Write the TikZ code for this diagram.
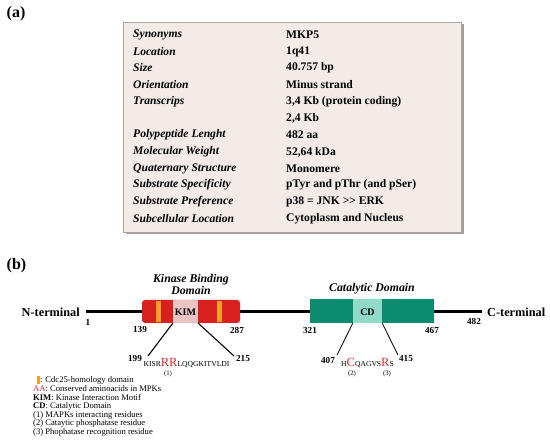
\documentclass[tikz,border=0pt]{standalone}
\usepackage{fontspec}
\setmainfont{Liberation Serif}
\definecolor{tablebg}{HTML}{F2EBE8}
\definecolor{tableborder}{HTML}{A8A4A2}
\definecolor{shadowgray}{HTML}{A09C9A}
\definecolor{kred}{HTML}{D8201E}
\definecolor{kimpink}{HTML}{EDC3C3}
\definecolor{korange}{HTML}{F2A02A}
\definecolor{cteal}{HTML}{0C8C6E}
\definecolor{cdlight}{HTML}{92DAC8}
\definecolor{seqred}{HTML}{E0262C}
\begin{document}
\begin{tikzpicture}[x=1pt,y=-1pt,
  lefttxt/.style={anchor=west,inner sep=0pt,font=\fontsize{11.6}{13}\selectfont\bfseries\itshape},
  righttxt/.style={anchor=west,inner sep=0pt,font=\fontsize{11.6}{13}\selectfont\bfseries},
  paneltxt/.style={anchor=west,inner sep=0pt,font=\fontsize{16}{18}\selectfont\bfseries},
  termtxt/.style={inner sep=0pt,font=\fontsize{12.3}{14}\selectfont\bfseries},
  posnum/.style={inner sep=0pt,font=\fontsize{9.2}{10}\selectfont\bfseries},
  domtitle/.style={inner sep=0pt,align=center,font=\fontsize{11.8}{13}\selectfont\bfseries\itshape},
  seqtxt/.style={inner sep=0pt,font=\fontsize{7.6}{8}\selectfont},
  notetxt/.style={inner sep=0pt,font=\fontsize{6.8}{7}\selectfont},
  legendtxt/.style={anchor=west,inner sep=0pt,font=\fontsize{8.6}{9}\selectfont},
  pinline/.style={line width=1.1pt},
  backbone/.style={line width=3pt}]
\useasboundingbox (0,0) rectangle (550,443);

% ---------- (a) ----------
\node[paneltxt] (pa) at (6.5,14) {(a)};
\fill[shadowgray] (125.5,24.5) rectangle (463.5,234.5);
\draw[tableborder,fill=tablebg,line width=0.6pt] (123,22) rectangle (461,232);

\foreach \i/\l/\r/\y in {
  1/Synonyms/MKP5/35,
  2/Location/1q41/52,
  3/Size/40.757 bp/68,
  4/Orientation/Minus strand/85,
  5/Transcrips/{3,4 Kb (protein coding)}/102,
  6/{}/{2,4 Kb}/118,
  7/Polypeptide Lenght/482 aa/135,
  8/Molecular Weight/{52,64 kDa}/152,
  9/Quaternary Structure/Monomere/169,
  10/Substrate Specificity/pTyr and pThr (and pSer)/185,
  11/Substrate Preference/{p38 = JNK \textgreater\kern0pt\textgreater\ ERK}/202,
  12/Subcellular Location/Cytoplasm and Nucleus/219}{
  \node[lefttxt] (lt\i) at (133,\y) {\l};
  \node[righttxt] (rt\i) at (286,\y) {\r};
}

% ---------- (b) ----------
\node[paneltxt] (pb) at (6.5,266) {(b)};

\coordinate (nstart) at (86,312);
\coordinate (cend) at (482,312);
\draw[backbone] (nstart) -- (cend);

\node[termtxt,anchor=east] (nterm) at (80,312) {N-terminal};
\node[termtxt,anchor=west] (cterm) at (487,312) {C-terminal};
\node[posnum] (p1) at (88,322) {1};
\node[posnum] (p482) at (474,321) {482};

% kinase binding domain
\node[domtitle] (kbdt) at (191,284.5) {Kinase Binding\\[-1.5pt]Domain};
\fill[kred,rounded corners=3pt] (142,300) rectangle (240,323);
\fill[kimpink] (173,300) rectangle (198,323);
\node[inner sep=0pt,minimum width=25pt,minimum height=23pt] (kim) at (185.5,311.5) {};
\node[inner sep=0pt,font=\fontsize{10}{11}\selectfont\bfseries] (kimt) at (185.5,312.5) {KIM};
\fill[korange] (155.5,301) rectangle (160.5,322);
\fill[korange] (216.5,301) rectangle (221.5,322);
\node[posnum] (p139) at (140,330) {139};
\node[posnum] (p287) at (237,330) {287};

\coordinate (k199) at (148,356);
\coordinate (k215) at (234,356);
\draw[pinline] (kim.south west) -- (k199);
\draw[pinline] (kim.south east) -- (k215);
\node[posnum] (p199) at (135,359) {199};
\node[posnum] (p215) at (243,359) {215};
\node[seqtxt,anchor=base] (seq1) at (186.5,366.5) {KISR\textcolor{seqred}{\fontsize{12.5}{13}\selectfont RR}LQQGKITVLDI};
\node[notetxt] (n1) at (168,374) {(1)};

% catalytic domain
\node[domtitle] (cdt) at (372,289) {Catalytic Domain};
\fill[cteal] (310,299) rectangle (434,323);
\fill[cdlight] (353,299) rectangle (382,323);
\node[inner sep=0pt,minimum width=29pt,minimum height=24pt] (cd) at (367.5,311) {};
\node[inner sep=0pt,font=\fontsize{10}{11}\selectfont\bfseries] (cdtext) at (367.5,312) {CD};
\node[posnum] (p321) at (310,331) {321};
\node[posnum] (p467) at (432,331) {467};

\coordinate (c407) at (337,355);
\coordinate (c415) at (398,355);
\draw[pinline,line width=0.8pt] (cd.south west) -- (c407);
\draw[pinline,line width=0.8pt] (cd.south east) -- (c415);
\node[posnum] (p407) at (328,360) {407};
\node[posnum] (p415) at (406,359) {415};
\node[seqtxt,anchor=base] (seq2) at (367.5,366.5) {H\textcolor{seqred}{\fontsize{12.5}{13}\selectfont C}QAGVS\textcolor{seqred}{\fontsize{12.5}{13}\selectfont R}S};
\node[notetxt] (n2) at (352,374) {(2)};
\node[notetxt] (n3) at (387,374) {(3)};

% legend
\fill[korange] (36.5,376) rectangle (39.5,384);
\node[legendtxt] (lg1) at (40,380) {: Cdc25-homology domain};
\node[legendtxt] (lg2) at (33,389) {\textcolor{seqred}{AA}: Conserved aminoacids in MPKs};
\node[legendtxt] (lg3) at (33,398) {\textbf{KIM}: Kinase Interaction Motif};
\node[legendtxt] (lg4) at (33,406) {\textbf{CD}: Catalytic Domain};
\node[legendtxt] (lg5) at (33,415) {(1) MAPKs interacting residues};
\node[legendtxt] (lg6) at (33,423) {(2) Cataytic phosphatase residue};
\node[legendtxt] (lg7) at (33,432) {(3) Phophatase recognition residue};
\end{tikzpicture}
\end{document}
